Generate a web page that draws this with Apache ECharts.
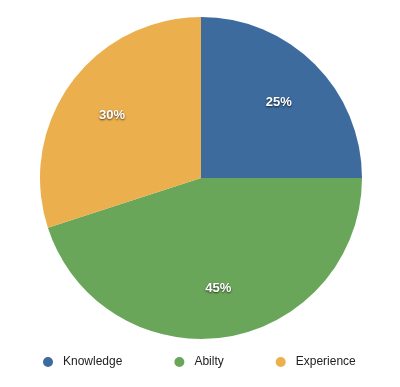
<!DOCTYPE html>
<html>
<head>
<meta charset="utf-8">
<script src="https://cdn.jsdelivr.net/npm/echarts@6/dist/echarts.min.js"></script>
<style>html,body{margin:0;padding:0;background:#fff;}#c{width:400px;height:387px;}</style>
</head>
<body>
<div id="c"></div>
<script>
const categories = ['Knowledge', 'Abilty', 'Experience'];
const values = [25, 45, 30];
const colors = ['#3d6b9e', '#6aa65a', '#ecaf4e'];

const data = categories.map((n, i) => ({ name: n, value: values[i], itemStyle: { color: colors[i] } }));
const labelData = categories.map((n, i) => ({ name: n, value: values[i], itemStyle: { color: 'rgba(0,0,0,0)' } }));

const chart = echarts.init(document.getElementById('c'));
chart.setOption({
  animation: false,
  legend: {
    data: categories.map((n, i) => ({ name: n, itemStyle: { color: colors[i] } })),
    icon: 'circle',
    itemWidth: 10,
    itemHeight: 10,
    itemGap: 52,
    left: 38,
    top: 351,
    textStyle: { fontFamily: 'Liberation Sans, Arial, sans-serif', fontSize: 12, color: '#222', padding: [0, 0, 0, 5] }
  },
  series: [
    {
      type: 'pie',
      center: [201, 178],
      radius: 161,
      startAngle: 90,
      clockwise: true,
      label: { show: false },
      labelLine: { show: false },
      silent: true,
      data: data
    },
    {
      type: 'pie',
      center: [201, 178],
      radius: [53, 161],
      startAngle: 90,
      clockwise: true,
      silent: true,
      labelLayout: { dy: 2 },
      label: {
        show: true,
        position: 'inside',
        formatter: '{d}%',
        color: '#fff',
        fontFamily: 'Liberation Sans, Arial, sans-serif',
        fontWeight: 'bold',
        fontSize: 13,
        textShadowColor: 'rgba(0,0,0,0.7)',
        textShadowBlur: 2,
        textShadowOffsetX: 0,
        textShadowOffsetY: 1
      },
      labelLine: { show: false },
      data: labelData
    }
  ]
});
</script>
</body>
</html>
